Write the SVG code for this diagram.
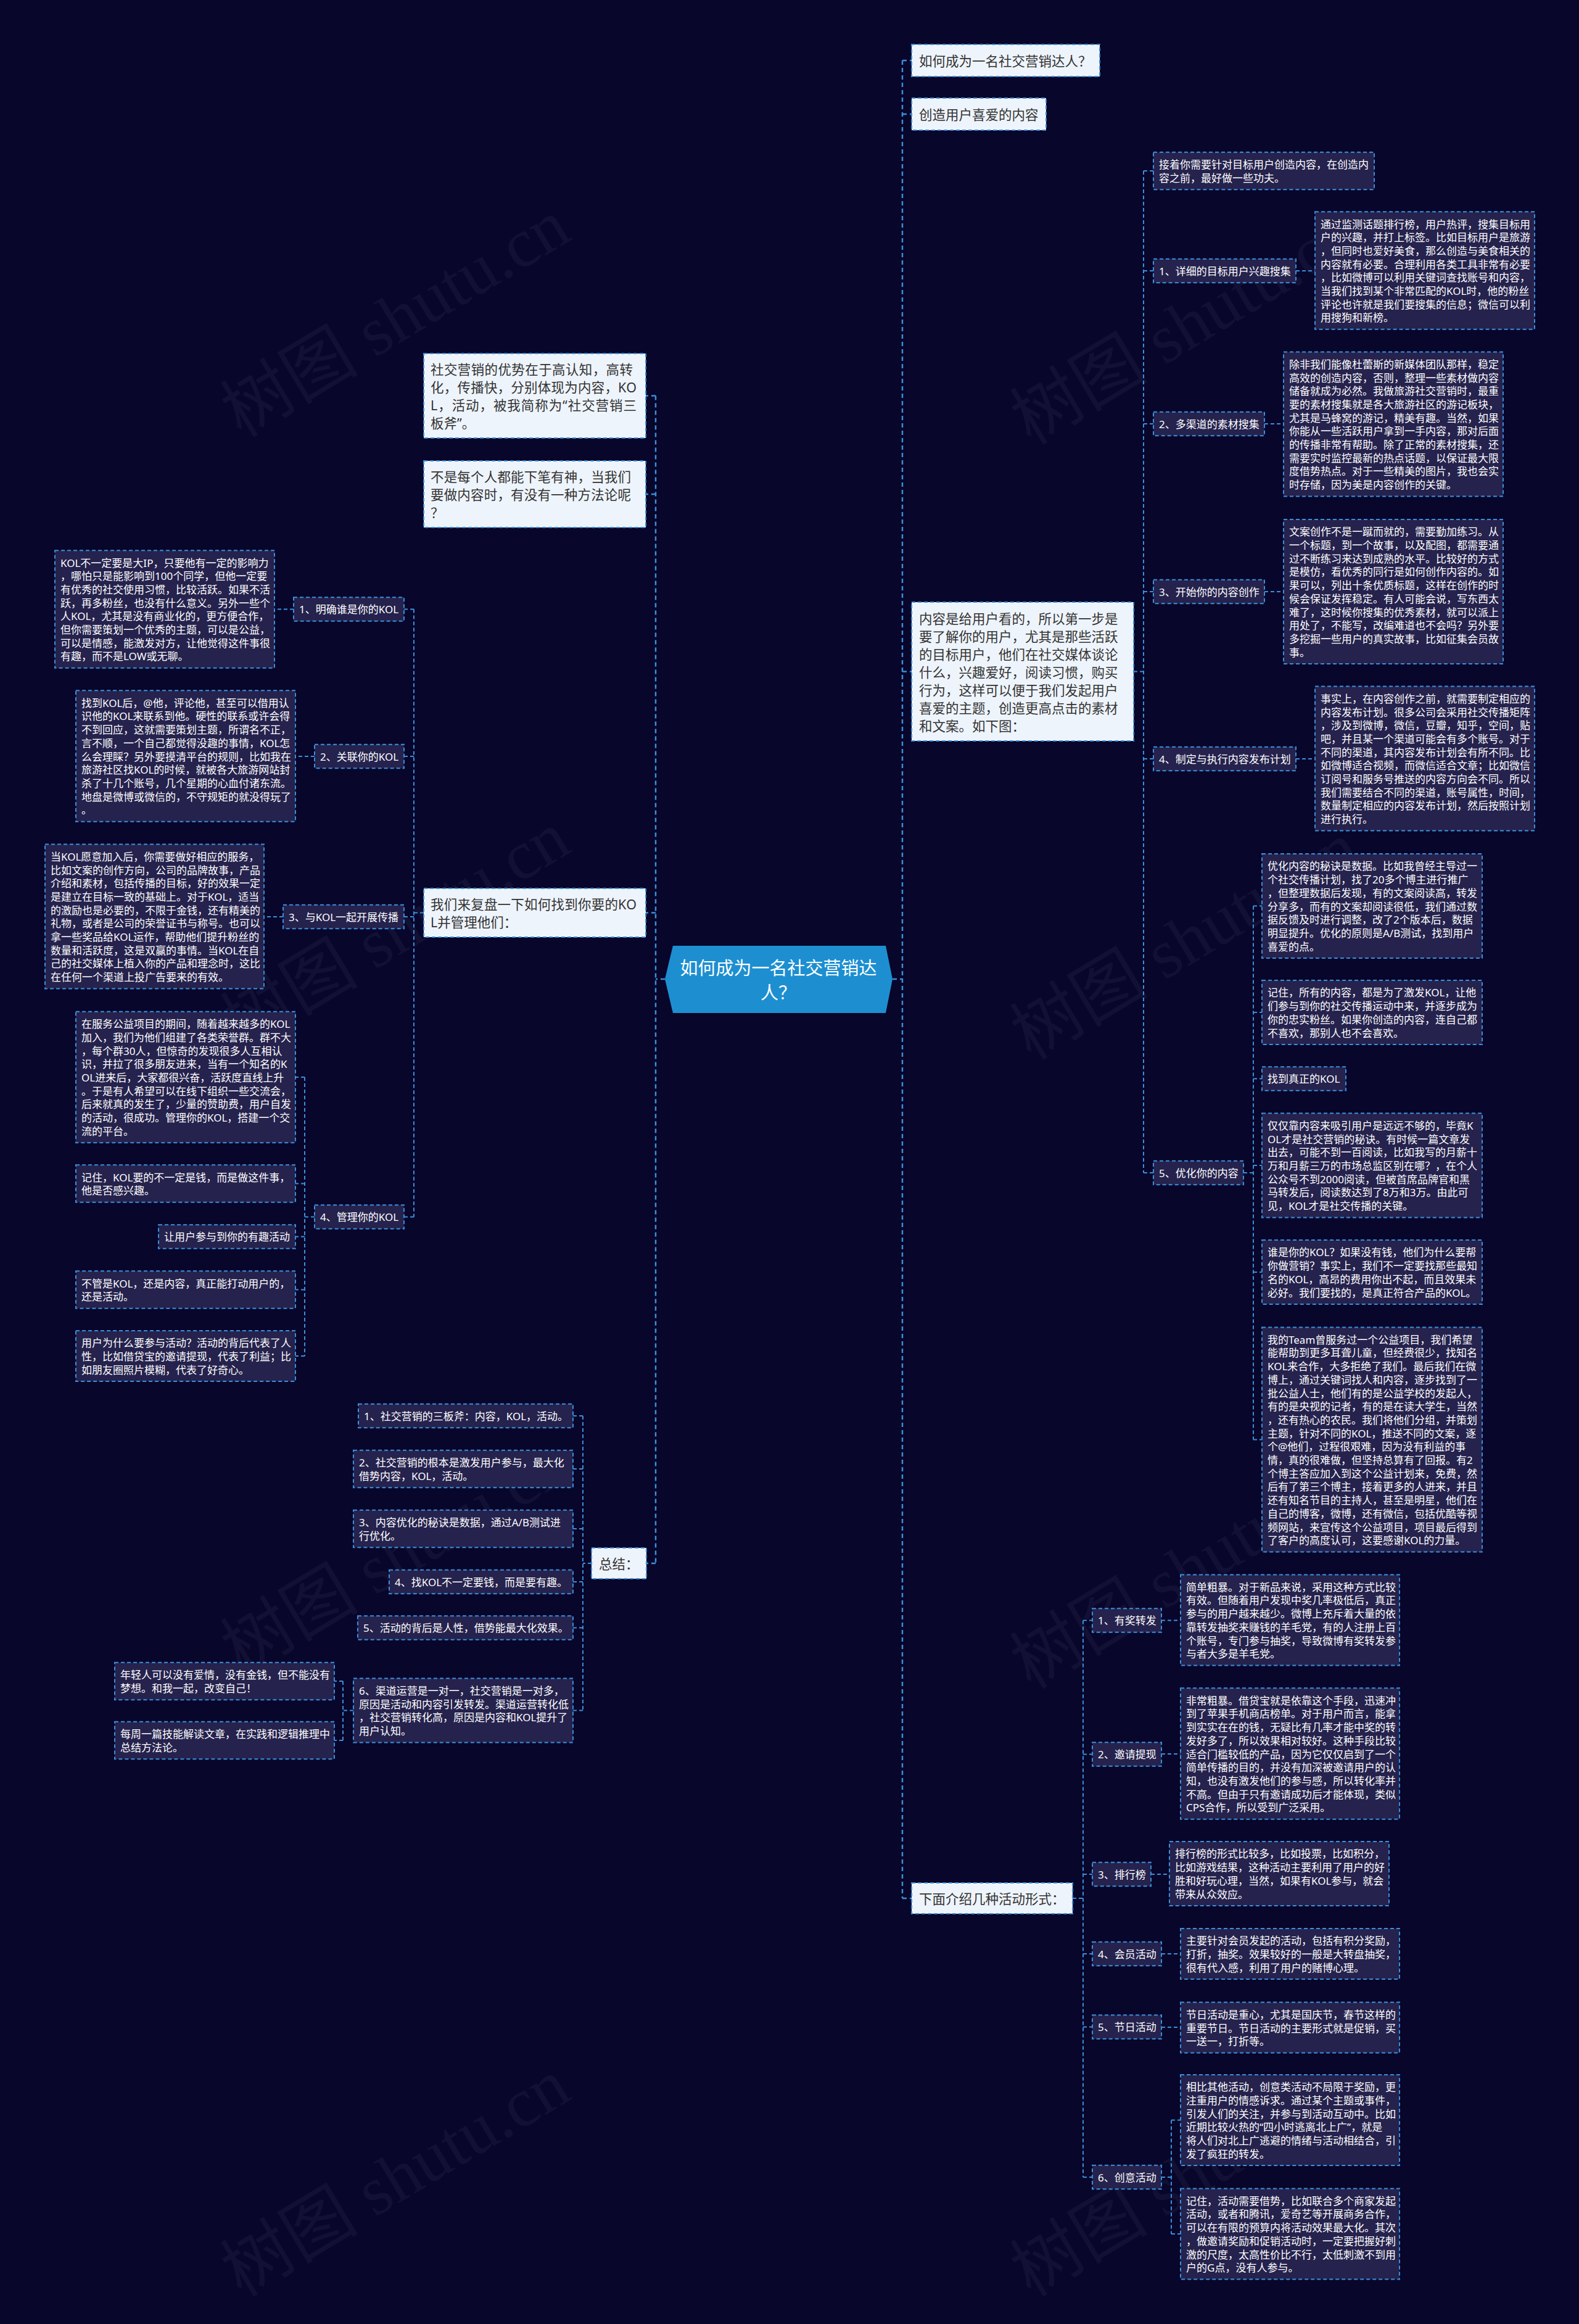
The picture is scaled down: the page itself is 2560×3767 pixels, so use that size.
<svg xmlns="http://www.w3.org/2000/svg" width="2560" height="3767" viewBox="0 0 2560 3767">
<defs>
<style>
.bg{fill:#08062b}
.wm{font-family:"Liberation Serif","Noto Sans CJK SC",serif;font-size:112px;fill:#ffffff;fill-opacity:0.045}
.leaf{fill:#25224d;stroke:#3a8fd9;stroke-width:2;stroke-dasharray:6 4}
.wb{fill:#eef4fb;stroke:#3a8fd9;stroke-width:2;stroke-dasharray:6 4}
.t{font-family:"Noto Sans","Noto Sans CJK SC",sans-serif;font-size:17px;fill:#ffffff;dominant-baseline:central}
.tw{font-family:"Noto Sans","Noto Sans CJK SC",sans-serif;font-size:21.5px;fill:#333333;dominant-baseline:central}
.tc{font-family:"Noto Sans","Noto Sans CJK SC",sans-serif;font-size:29px;fill:#ffffff;dominant-baseline:central;text-anchor:middle}
.cn{fill:none;stroke:#3a8fd9;stroke-width:2;stroke-dasharray:6 4}
.trunk{fill:none;stroke:#3a8fd9;stroke-width:2.5;stroke-dasharray:7 5}
</style>
</defs>
<rect class="bg" x="0" y="0" width="2560" height="3767"/>
<g id="watermarks">
<text class="wm" transform="translate(641,516) rotate(-31)" text-anchor="middle" dominant-baseline="central">树图 shutu.cn</text>
<text class="wm" transform="translate(1921,528) rotate(-31)" text-anchor="middle" dominant-baseline="central">树图 shutu.cn</text>
<text class="wm" transform="translate(641,1508) rotate(-31)" text-anchor="middle" dominant-baseline="central">树图 shutu.cn</text>
<text class="wm" transform="translate(1921,1525) rotate(-31)" text-anchor="middle" dominant-baseline="central">树图 shutu.cn</text>
<text class="wm" transform="translate(641,2522) rotate(-31)" text-anchor="middle" dominant-baseline="central">树图 shutu.cn</text>
<text class="wm" transform="translate(1921,2545) rotate(-31)" text-anchor="middle" dominant-baseline="central">树图 shutu.cn</text>
<text class="wm" transform="translate(641,3530) rotate(-31)" text-anchor="middle" dominant-baseline="central">树图 shutu.cn</text>
<text class="wm" transform="translate(1921,3530) rotate(-31)" text-anchor="middle" dominant-baseline="central">树图 shutu.cn</text>
</g>
<g id="connectors">
<path class="trunk" d="M1447 1587H1463M1463 98V3077M1463 98H1478M1463 185H1478M1463 1088.5H1478M1463 3077H1478"/>
<path class="trunk" d="M1078 1587H1063M1063 641.5V2534M1063 641.5H1047M1063 801H1047M1063 1479.5H1047M1063 2534H1048"/>
<path class="cn" d="M1838 1088.5H1854M1854 277V1901M1854 277H1870M1854 439H1870M1854 687H1870M1854 959H1870M1854 1230H1870M1854 1901H1870"/>
<path class="cn" d="M2101 439H2132M2050 687H2081M2050 959H2081M2101 1230H2132"/>
<path class="cn" d="M2016 1901H2032M2032 1468.5V2333.5M2032 1468.5H2046M2032 1641H2046M2032 1748.5H2046M2032 1889H2046M2032 2062H2046M2032 2333.5H2046"/>
<path class="cn" d="M1739 3077H1756M1756 2626.5V3529M1756 2626.5H1771M1756 2843.5H1771M1756 3038H1771M1756 3167H1771M1756 3285.5H1771M1756 3529H1771"/>
<path class="cn" d="M1883 2626.5H1914M1883 2843H1914M1866 3038H1896M1883 3167H1914M1883 3286H1914M1883 3529H1899M1899 3436.5V3621M1899 3436.5H1914M1899 3621H1914"/>
<path class="cn" d="M687 1479.5H671M671 987.5V1972.5M671 987.5H655M671 1226H655M671 1486H655M671 1972.5H655"/>
<path class="cn" d="M476 987.5H445M510 1226H479M459 1486H428M510 1972.5H494M494 1746V2198M494 1746H479M494 1918.5H479M494 2004.5H479M494 2090.5H479M494 2198H479"/>
<path class="cn" d="M959 2534H945M945 2295V2772.5M945 2295H929M945 2381H929M945 2478H929M945 2564H929M945 2638.5H929M945 2772.5H929"/>
<path class="cn" d="M573 2772.5H556M556 2725V2821M556 2725H542M556 2821H542"/>
</g>
<g id="center">
<polygon points="1078,1587 1091,1533 1436,1533 1447,1587 1436,1642 1091,1642" fill="#1d8fd1"/>
<text class="tc" x="1262" y="1568">如何成为一名社交营销达</text>
<text class="tc" x="1262" y="1608">人？</text>
</g>
<g id="n-title">
<rect class="wb" x="1478" y="72" width="305" height="52"/>
<text class="tw" x="1490" y="98">如何成为一名社交营销达人？</text>
</g>
<g id="n-create">
<rect class="wb" x="1478" y="159" width="218" height="52"/>
<text class="tw" x="1490" y="185">创造用户喜爱的内容</text>
</g>
<g id="n-content">
<rect class="wb" x="1478" y="976" width="360" height="225"/>
<text class="tw" x="1490" y="1001.5"><tspan x="1490" dy="0">内容是给用户看的，所以第一步是</tspan><tspan x="1490" dy="29">要了解你的用户，尤其是那些活跃</tspan><tspan x="1490" dy="29">的目标用户，他们在社交媒体谈论</tspan><tspan x="1490" dy="29">什么，兴趣爱好，阅读习惯，购买</tspan><tspan x="1490" dy="29">行为，这样可以便于我们发起用户</tspan><tspan x="1490" dy="29">喜爱的主题，创造更高点击的素材</tspan><tspan x="1490" dy="29">和文案。如下图：</tspan></text>
</g>
<g id="n-c0">
<rect class="leaf" x="1870" y="246.8" width="358" height="60.4"/>
<text class="t" x="1879" y="266.15"><tspan x="1879" dy="0">接着你需要针对目标用户创造内容，在创造内</tspan><tspan x="1879" dy="21.7">容之前，最好做一些功夫。</tspan></text>
</g>
<g id="n-c1">
<rect class="leaf" x="1870" y="419.65" width="231" height="38.7"/>
<text class="t" x="1879" y="439">1、详细的目标用户兴趣搜集</text>
</g>
<g id="n-c1t">
<rect class="leaf" x="2132" y="343.2" width="356" height="190.6"/>
<text class="t" x="2141" y="362.55"><tspan x="2141" dy="0">通过监测话题排行榜，用户热评，搜集目标用</tspan><tspan x="2141" dy="21.7">户的兴趣，并打上标签。比如目标用户是旅游</tspan><tspan x="2141" dy="21.7">，但同时也爱好美食，那么创造与美食相关的</tspan><tspan x="2141" dy="21.7">内容就有必要。合理利用各类工具非常有必要</tspan><tspan x="2141" dy="21.7">，比如微博可以利用关键词查找账号和内容，</tspan><tspan x="2141" dy="21.7">当我们找到某个非常匹配的KOL时，他的粉丝</tspan><tspan x="2141" dy="21.7">评论也许就是我们要搜集的信息；微信可以利</tspan><tspan x="2141" dy="21.7">用搜狗和新榜。</tspan></text>
</g>
<g id="n-c2">
<rect class="leaf" x="1870" y="667.65" width="180" height="38.7"/>
<text class="t" x="1879" y="687">2、多渠道的素材搜集</text>
</g>
<g id="n-c2t">
<rect class="leaf" x="2081" y="570.5" width="356" height="234"/>
<text class="t" x="2090" y="589.85"><tspan x="2090" dy="0">除非我们能像杜蕾斯的新媒体团队那样，稳定</tspan><tspan x="2090" dy="21.7">高效的创造内容，否则，整理一些素材做内容</tspan><tspan x="2090" dy="21.7">储备就成为必然。我做旅游社交营销时，最重</tspan><tspan x="2090" dy="21.7">要的素材搜集就是各大旅游社区的游记板块，</tspan><tspan x="2090" dy="21.7">尤其是马蜂窝的游记，精美有趣。当然，如果</tspan><tspan x="2090" dy="21.7">你能从一些活跃用户拿到一手内容，那对后面</tspan><tspan x="2090" dy="21.7">的传播非常有帮助。除了正常的素材搜集，还</tspan><tspan x="2090" dy="21.7">需要实时监控最新的热点话题，以保证最大限</tspan><tspan x="2090" dy="21.7">度借势热点。对于一些精美的图片，我也会实</tspan><tspan x="2090" dy="21.7">时存储，因为美是内容创作的关键。</tspan></text>
</g>
<g id="n-c3">
<rect class="leaf" x="1870" y="939.65" width="180" height="38.7"/>
<text class="t" x="1879" y="959">3、开始你的内容创作</text>
</g>
<g id="n-c3t">
<rect class="leaf" x="2081" y="842" width="356" height="234"/>
<text class="t" x="2090" y="861.35"><tspan x="2090" dy="0">文案创作不是一蹴而就的，需要勤加练习。从</tspan><tspan x="2090" dy="21.7">一个标题，到一个故事，以及配图，都需要通</tspan><tspan x="2090" dy="21.7">过不断练习来达到成熟的水平。比较好的方式</tspan><tspan x="2090" dy="21.7">是模仿，看优秀的同行是如何创作内容的。如</tspan><tspan x="2090" dy="21.7">果可以，列出十条优质标题，这样在创作的时</tspan><tspan x="2090" dy="21.7">候会保证发挥稳定。有人可能会说，写东西太</tspan><tspan x="2090" dy="21.7">难了，这时候你搜集的优秀素材，就可以派上</tspan><tspan x="2090" dy="21.7">用处了，不能写，改编难道也不会吗？另外要</tspan><tspan x="2090" dy="21.7">多挖掘一些用户的真实故事，比如征集会员故</tspan><tspan x="2090" dy="21.7">事。</tspan></text>
</g>
<g id="n-c4">
<rect class="leaf" x="1870" y="1210.65" width="231" height="38.7"/>
<text class="t" x="1879" y="1230">4、制定与执行内容发布计划</text>
</g>
<g id="n-c4t">
<rect class="leaf" x="2132" y="1112.5" width="356" height="234"/>
<text class="t" x="2141" y="1131.85"><tspan x="2141" dy="0">事实上，在内容创作之前，就需要制定相应的</tspan><tspan x="2141" dy="21.7">内容发布计划。很多公司会采用社交传播矩阵</tspan><tspan x="2141" dy="21.7">，涉及到微博，微信，豆瓣，知乎，空间，贴</tspan><tspan x="2141" dy="21.7">吧，并且某一个渠道可能会有多个账号。对于</tspan><tspan x="2141" dy="21.7">不同的渠道，其内容发布计划会有所不同。比</tspan><tspan x="2141" dy="21.7">如微博适合视频，而微信适合文章；比如微信</tspan><tspan x="2141" dy="21.7">订阅号和服务号推送的内容方向会不同。所以</tspan><tspan x="2141" dy="21.7">我们需要结合不同的渠道，账号属性，时间，</tspan><tspan x="2141" dy="21.7">数量制定相应的内容发布计划，然后按照计划</tspan><tspan x="2141" dy="21.7">进行执行。</tspan></text>
</g>
<g id="n-c5">
<rect class="leaf" x="1870" y="1881.65" width="146" height="38.7"/>
<text class="t" x="1879" y="1901">5、优化你的内容</text>
</g>
<g id="n-c5a">
<rect class="leaf" x="2046" y="1384.05" width="357" height="168.9"/>
<text class="t" x="2055" y="1403.4"><tspan x="2055" dy="0">优化内容的秘诀是数据。比如我曾经主导过一</tspan><tspan x="2055" dy="21.7">个社交传播计划，找了20多个博主进行推广</tspan><tspan x="2055" dy="21.7">，但整理数据后发现，有的文案阅读高，转发</tspan><tspan x="2055" dy="21.7">分享多，而有的文案却阅读很低，我们通过数</tspan><tspan x="2055" dy="21.7">据反馈及时进行调整，改了2个版本后，数据</tspan><tspan x="2055" dy="21.7">明显提升。优化的原则是A/B测试，找到用户</tspan><tspan x="2055" dy="21.7">喜爱的点。</tspan></text>
</g>
<g id="n-c5b">
<rect class="leaf" x="2046" y="1589.1" width="357" height="103.8"/>
<text class="t" x="2055" y="1608.45"><tspan x="2055" dy="0">记住，所有的内容，都是为了激发KOL，让他</tspan><tspan x="2055" dy="21.7">们参与到你的社交传播运动中来，并逐步成为</tspan><tspan x="2055" dy="21.7">你的忠实粉丝。如果你创造的内容，连自己都</tspan><tspan x="2055" dy="21.7">不喜欢，那别人也不会喜欢。</tspan></text>
</g>
<g id="n-c5c">
<rect class="leaf" x="2046" y="1729.15" width="136" height="38.7"/>
<text class="t" x="2055" y="1748.5">找到真正的KOL</text>
</g>
<g id="n-c5d">
<rect class="leaf" x="2046" y="1804.55" width="357" height="168.9"/>
<text class="t" x="2055" y="1823.9"><tspan x="2055" dy="0">仅仅靠内容来吸引用户是远远不够的，毕竟K</tspan><tspan x="2055" dy="21.7">OL才是社交营销的秘诀。有时候一篇文章发</tspan><tspan x="2055" dy="21.7">出去，可能不到一百阅读，比如我写的月薪十</tspan><tspan x="2055" dy="21.7">万和月薪三万的市场总监区别在哪？，在个人</tspan><tspan x="2055" dy="21.7">公众号不到2000阅读，但被首席品牌官和黑</tspan><tspan x="2055" dy="21.7">马转发后，阅读数达到了8万和3万。由此可</tspan><tspan x="2055" dy="21.7">见，KOL才是社交传播的关键。</tspan></text>
</g>
<g id="n-c5e">
<rect class="leaf" x="2046" y="2010.1" width="357" height="103.8"/>
<text class="t" x="2055" y="2029.45"><tspan x="2055" dy="0">谁是你的KOL？如果没有钱，他们为什么要帮</tspan><tspan x="2055" dy="21.7">你做营销？事实上，我们不一定要找那些最知</tspan><tspan x="2055" dy="21.7">名的KOL，高昂的费用你出不起，而且效果未</tspan><tspan x="2055" dy="21.7">必好。我们要找的，是真正符合产品的KOL。</tspan></text>
</g>
<g id="n-c5f">
<rect class="leaf" x="2046" y="2151.4" width="357" height="364.2"/>
<text class="t" x="2055" y="2170.75"><tspan x="2055" dy="0">我的Team曾服务过一个公益项目，我们希望</tspan><tspan x="2055" dy="21.7">能帮助到更多耳聋儿童，但经费很少，找知名</tspan><tspan x="2055" dy="21.7">KOL来合作，大多拒绝了我们。最后我们在微</tspan><tspan x="2055" dy="21.7">博上，通过关键词找人和内容，逐步找到了一</tspan><tspan x="2055" dy="21.7">批公益人士，他们有的是公益学校的发起人，</tspan><tspan x="2055" dy="21.7">有的是央视的记者，有的是在读大学生，当然</tspan><tspan x="2055" dy="21.7">，还有热心的农民。我们将他们分组，并策划</tspan><tspan x="2055" dy="21.7">主题，针对不同的KOL，推送不同的文案，逐</tspan><tspan x="2055" dy="21.7">个@他们，过程很艰难，因为没有利益的事</tspan><tspan x="2055" dy="21.7">情，真的很难做，但坚持总算有了回报。有2</tspan><tspan x="2055" dy="21.7">个博主答应加入到这个公益计划来，免费，然</tspan><tspan x="2055" dy="21.7">后有了第三个博主，接着更多的人进来，并且</tspan><tspan x="2055" dy="21.7">还有知名节目的主持人，甚至是明星，他们在</tspan><tspan x="2055" dy="21.7">自己的博客，微博，还有微信，包括优酷等视</tspan><tspan x="2055" dy="21.7">频网站，来宣传这个公益项目，项目最后得到</tspan><tspan x="2055" dy="21.7">了客户的高度认可，这要感谢KOL的力量。</tspan></text>
</g>
<g id="n-act">
<rect class="wb" x="1478" y="3052" width="261" height="50"/>
<text class="tw" x="1490" y="3077">下面介绍几种活动形式：</text>
</g>
<g id="n-a1">
<rect class="leaf" x="1771" y="2607.15" width="112" height="38.7"/>
<text class="t" x="1780" y="2626.5">1、有奖转发</text>
</g>
<g id="n-a1t">
<rect class="leaf" x="1914" y="2552.4" width="355" height="147.2"/>
<text class="t" x="1923" y="2571.75"><tspan x="1923" dy="0">简单粗暴。对于新品来说，采用这种方式比较</tspan><tspan x="1923" dy="21.7">有效。但随着用户发现中奖几率极低后，真正</tspan><tspan x="1923" dy="21.7">参与的用户越来越少。微博上充斥着大量的依</tspan><tspan x="1923" dy="21.7">靠转发抽奖来赚钱的羊毛党，有的人注册上百</tspan><tspan x="1923" dy="21.7">个账号，专门参与抽奖，导致微博有奖转发参</tspan><tspan x="1923" dy="21.7">与者大多是羊毛党。</tspan></text>
</g>
<g id="n-a2">
<rect class="leaf" x="1771" y="2824.15" width="112" height="38.7"/>
<text class="t" x="1780" y="2843.5">2、邀请提现</text>
</g>
<g id="n-a2t">
<rect class="leaf" x="1914" y="2736.35" width="355" height="212.3"/>
<text class="t" x="1923" y="2755.7"><tspan x="1923" dy="0">非常粗暴。借贷宝就是依靠这个手段，迅速冲</tspan><tspan x="1923" dy="21.7">到了苹果手机商店榜单。对于用户而言，能拿</tspan><tspan x="1923" dy="21.7">到实实在在的钱，无疑比有几率才能中奖的转</tspan><tspan x="1923" dy="21.7">发好多了，所以效果相对较好。这种手段比较</tspan><tspan x="1923" dy="21.7">适合门槛较低的产品，因为它仅仅启到了一个</tspan><tspan x="1923" dy="21.7">简单传播的目的，并没有加深被邀请用户的认</tspan><tspan x="1923" dy="21.7">知，也没有激发他们的参与感，所以转化率并</tspan><tspan x="1923" dy="21.7">不高。但由于只有邀请成功后才能体现，类似</tspan><tspan x="1923" dy="21.7">CPS合作，所以受到广泛采用。</tspan></text>
</g>
<g id="n-a3">
<rect class="leaf" x="1771" y="3018.65" width="95" height="38.7"/>
<text class="t" x="1780" y="3038">3、排行榜</text>
</g>
<g id="n-a3t">
<rect class="leaf" x="1896" y="2985.1" width="356" height="103.8"/>
<text class="t" x="1905" y="3004.45"><tspan x="1905" dy="0">排行榜的形式比较多，比如投票，比如积分，</tspan><tspan x="1905" dy="21.7">比如游戏结果，这种活动主要利用了用户的好</tspan><tspan x="1905" dy="21.7">胜和好玩心理，当然，如果有KOL参与，就会</tspan><tspan x="1905" dy="21.7">带来从众效应。</tspan></text>
</g>
<g id="n-a4">
<rect class="leaf" x="1771" y="3147.65" width="112" height="38.7"/>
<text class="t" x="1780" y="3167">4、会员活动</text>
</g>
<g id="n-a4t">
<rect class="leaf" x="1914" y="3125.95" width="355" height="82.1"/>
<text class="t" x="1923" y="3145.3"><tspan x="1923" dy="0">主要针对会员发起的活动，包括有积分奖励，</tspan><tspan x="1923" dy="21.7">打折，抽奖。效果较好的一般是大转盘抽奖，</tspan><tspan x="1923" dy="21.7">很有代入感，利用了用户的赌博心理。</tspan></text>
</g>
<g id="n-a5">
<rect class="leaf" x="1771" y="3266.15" width="112" height="38.7"/>
<text class="t" x="1780" y="3285.5">5、节日活动</text>
</g>
<g id="n-a5t">
<rect class="leaf" x="1914" y="3245.45" width="355" height="82.1"/>
<text class="t" x="1923" y="3264.8"><tspan x="1923" dy="0">节日活动是重心，尤其是国庆节，春节这样的</tspan><tspan x="1923" dy="21.7">重要节日。节日活动的主要形式就是促销，买</tspan><tspan x="1923" dy="21.7">一送一，打折等。</tspan></text>
</g>
<g id="n-a6">
<rect class="leaf" x="1771" y="3509.65" width="112" height="38.7"/>
<text class="t" x="1780" y="3529">6、创意活动</text>
</g>
<g id="n-a6a">
<rect class="leaf" x="1914" y="3362.9" width="355" height="147.2"/>
<text class="t" x="1923" y="3382.25"><tspan x="1923" dy="0">相比其他活动，创意类活动不局限于奖励，更</tspan><tspan x="1923" dy="21.7">注重用户的情感诉求。通过某个主题或事件，</tspan><tspan x="1923" dy="21.7">引发人们的关注，并参与到活动互动中。比如</tspan><tspan x="1923" dy="21.7">近期比较火热的“四小时逃离北上广”，就是</tspan><tspan x="1923" dy="21.7">将人们对北上广逃避的情绪与活动相结合，引</tspan><tspan x="1923" dy="21.7">发了疯狂的转发。</tspan></text>
</g>
<g id="n-a6b">
<rect class="leaf" x="1914" y="3547.4" width="355" height="147.2"/>
<text class="t" x="1923" y="3566.75"><tspan x="1923" dy="0">记住，活动需要借势，比如联合多个商家发起</tspan><tspan x="1923" dy="21.7">活动，或者和腾讯，爱奇艺等开展商务合作，</tspan><tspan x="1923" dy="21.7">可以在有限的预算内将活动效果最大化。其次</tspan><tspan x="1923" dy="21.7">，做邀请奖励和促销活动时，一定要把握好刺</tspan><tspan x="1923" dy="21.7">激的尺度，太高性价比不行，太低刺激不到用</tspan><tspan x="1923" dy="21.7">户的G点，没有人参与。</tspan></text>
</g>
<g id="n-l1">
<rect class="wb" x="687" y="573" width="360" height="137"/>
<text class="tw" x="698" y="598.45"><tspan x="698" dy="0" textLength="328" lengthAdjust="spacing">社交营销的优势在于高认知，高转</tspan><tspan x="698" dy="28.7" textLength="334" lengthAdjust="spacing">化，传播快，分别体现为内容，KO</tspan><tspan x="698" dy="28.7" textLength="334" lengthAdjust="spacing">L，活动，被我简称为“社交营销三</tspan><tspan x="698" dy="28.7">板斧”。</tspan></text>
</g>
<g id="n-l2">
<rect class="wb" x="687" y="747" width="360" height="108"/>
<text class="tw" x="698" y="772.3"><tspan x="698" dy="0" textLength="325" lengthAdjust="spacing">不是每个人都能下笔有神，当我们</tspan><tspan x="698" dy="28.7" textLength="325" lengthAdjust="spacing">要做内容时，有没有一种方法论呢</tspan><tspan x="698" dy="28.7">？</tspan></text>
</g>
<g id="n-l3">
<rect class="wb" x="687" y="1440" width="360" height="79"/>
<text class="tw" x="698" y="1465.15"><tspan x="698" dy="0" textLength="334" lengthAdjust="spacing">我们来复盘一下如何找到你要的KO</tspan><tspan x="698" dy="28.7">L并管理他们：</tspan></text>
</g>
<g id="n-k1">
<rect class="leaf" x="476" y="968.15" width="179" height="38.7"/>
<text class="t" x="485" y="987.5">1、明确谁是你的KOL</text>
</g>
<g id="n-k1t">
<rect class="leaf" x="89" y="892.2" width="356" height="190.6"/>
<text class="t" x="98" y="911.55"><tspan x="98" dy="0">KOL不一定要是大IP，只要他有一定的影响力</tspan><tspan x="98" dy="21.7">，哪怕只是能影响到100个同学，但他一定要</tspan><tspan x="98" dy="21.7">有优秀的社交使用习惯，比较活跃。如果不活</tspan><tspan x="98" dy="21.7">跃，再多粉丝，也没有什么意义。另外一些个</tspan><tspan x="98" dy="21.7">人KOL，尤其是没有商业化的，更方便合作，</tspan><tspan x="98" dy="21.7">但你需要策划一个优秀的主题，可以是公益，</tspan><tspan x="98" dy="21.7">可以是情感，能激发对方，让他觉得这件事很</tspan><tspan x="98" dy="21.7">有趣，而不是LOW或无聊。</tspan></text>
</g>
<g id="n-k2">
<rect class="leaf" x="510" y="1206.65" width="145" height="38.7"/>
<text class="t" x="519" y="1226">2、关联你的KOL</text>
</g>
<g id="n-k2t">
<rect class="leaf" x="123" y="1119.35" width="356" height="212.3"/>
<text class="t" x="132" y="1138.7"><tspan x="132" dy="0">找到KOL后，@他，评论他，甚至可以借用认</tspan><tspan x="132" dy="21.7">识他的KOL来联系到他。硬性的联系或许会得</tspan><tspan x="132" dy="21.7">不到回应，这就需要策划主题，所谓名不正，</tspan><tspan x="132" dy="21.7">言不顺，一个自己都觉得没趣的事情，KOL怎</tspan><tspan x="132" dy="21.7">么会理睬？另外要摸清平台的规则，比如我在</tspan><tspan x="132" dy="21.7">旅游社区找KOL的时候，就被各大旅游网站封</tspan><tspan x="132" dy="21.7">杀了十几个账号，几个星期的心血付诸东流。</tspan><tspan x="132" dy="21.7">地盘是微博或微信的，不守规矩的就没得玩了</tspan><tspan x="132" dy="21.7">。</tspan></text>
</g>
<g id="n-k3">
<rect class="leaf" x="459" y="1466.65" width="196" height="38.7"/>
<text class="t" x="468" y="1486">3、与KOL一起开展传播</text>
</g>
<g id="n-k3t">
<rect class="leaf" x="73" y="1368.5" width="355" height="234"/>
<text class="t" x="82" y="1387.85"><tspan x="82" dy="0">当KOL愿意加入后，你需要做好相应的服务，</tspan><tspan x="82" dy="21.7">比如文案的创作方向，公司的品牌故事，产品</tspan><tspan x="82" dy="21.7">介绍和素材，包括传播的目标，好的效果一定</tspan><tspan x="82" dy="21.7">是建立在目标一致的基础上。对于KOL，适当</tspan><tspan x="82" dy="21.7">的激励也是必要的，不限于金钱，还有精美的</tspan><tspan x="82" dy="21.7">礼物，或者是公司的荣誉证书与称号。也可以</tspan><tspan x="82" dy="21.7">拿一些奖品给KOL运作，帮助他们提升粉丝的</tspan><tspan x="82" dy="21.7">数量和活跃度，这是双赢的事情。当KOL在自</tspan><tspan x="82" dy="21.7">己的社交媒体上植入你的产品和理念时，这比</tspan><tspan x="82" dy="21.7">在任何一个渠道上投广告要来的有效。</tspan></text>
</g>
<g id="n-k4">
<rect class="leaf" x="510" y="1953.15" width="145" height="38.7"/>
<text class="t" x="519" y="1972.5">4、管理你的KOL</text>
</g>
<g id="n-k4a">
<rect class="leaf" x="123" y="1639.85" width="356" height="212.3"/>
<text class="t" x="132" y="1659.2"><tspan x="132" dy="0">在服务公益项目的期间，随着越来越多的KOL</tspan><tspan x="132" dy="21.7">加入，我们为他们组建了各类荣誉群。群不大</tspan><tspan x="132" dy="21.7">，每个群30人，但惊奇的发现很多人互相认</tspan><tspan x="132" dy="21.7">识，并拉了很多朋友进来，当有一个知名的K</tspan><tspan x="132" dy="21.7">OL进来后，大家都很兴奋，活跃度直线上升</tspan><tspan x="132" dy="21.7">。于是有人希望可以在线下组织一些交流会，</tspan><tspan x="132" dy="21.7">后来就真的发生了，少量的赞助费，用户自发</tspan><tspan x="132" dy="21.7">的活动，很成功。管理你的KOL，搭建一个交</tspan><tspan x="132" dy="21.7">流的平台。</tspan></text>
</g>
<g id="n-k4b">
<rect class="leaf" x="123" y="1888.3" width="356" height="60.4"/>
<text class="t" x="132" y="1907.65"><tspan x="132" dy="0">记住，KOL要的不一定是钱，而是做这件事，</tspan><tspan x="132" dy="21.7">他是否感兴趣。</tspan></text>
</g>
<g id="n-k4c">
<rect class="leaf" x="257" y="1985.15" width="222" height="38.7"/>
<text class="t" x="266" y="2004.5">让用户参与到你的有趣活动</text>
</g>
<g id="n-k4d">
<rect class="leaf" x="123" y="2060.3" width="356" height="60.4"/>
<text class="t" x="132" y="2079.65"><tspan x="132" dy="0">不管是KOL，还是内容，真正能打动用户的，</tspan><tspan x="132" dy="21.7">还是活动。</tspan></text>
</g>
<g id="n-k4e">
<rect class="leaf" x="123" y="2156.95" width="356" height="82.1"/>
<text class="t" x="132" y="2176.3"><tspan x="132" dy="0">用户为什么要参与活动？活动的背后代表了人</tspan><tspan x="132" dy="21.7">性，比如借贷宝的邀请提现，代表了利益；比</tspan><tspan x="132" dy="21.7">如朋友圈照片模糊，代表了好奇心。</tspan></text>
</g>
<g id="n-sum">
<rect class="wb" x="959" y="2509" width="89" height="50"/>
<text class="tw" x="971" y="2534">总结：</text>
</g>
<g id="n-s1">
<rect class="leaf" x="581" y="2275.65" width="348" height="38.7"/>
<text class="t" x="590" y="2295">1、社交营销的三板斧：内容，KOL，活动。</text>
</g>
<g id="n-s2">
<rect class="leaf" x="573" y="2350.8" width="356" height="60.4"/>
<text class="t" x="582" y="2370.15"><tspan x="582" dy="0">2、社交营销的根本是激发用户参与，最大化</tspan><tspan x="582" dy="21.7">借势内容，KOL，活动。</tspan></text>
</g>
<g id="n-s3">
<rect class="leaf" x="573" y="2447.8" width="356" height="60.4"/>
<text class="t" x="582" y="2467.15"><tspan x="582" dy="0">3、内容优化的秘诀是数据，通过A/B测试进</tspan><tspan x="582" dy="21.7">行优化。</tspan></text>
</g>
<g id="n-s4">
<rect class="leaf" x="631" y="2544.65" width="298" height="38.7"/>
<text class="t" x="640" y="2564">4、找KOL不一定要钱，而是要有趣。</text>
</g>
<g id="n-s5">
<rect class="leaf" x="580" y="2619.15" width="349" height="38.7"/>
<text class="t" x="589" y="2638.5">5、活动的背后是人性，借势能最大化效果。</text>
</g>
<g id="n-s6">
<rect class="leaf" x="573" y="2720.6" width="356" height="103.8"/>
<text class="t" x="582" y="2739.95"><tspan x="582" dy="0">6、渠道运营是一对一，社交营销是一对多，</tspan><tspan x="582" dy="21.7">原因是活动和内容引发转发。渠道运营转化低</tspan><tspan x="582" dy="21.7">，社交营销转化高，原因是内容和KOL提升了</tspan><tspan x="582" dy="21.7">用户认知。</tspan></text>
</g>
<g id="n-s6a">
<rect class="leaf" x="186" y="2694.8" width="356" height="60.4"/>
<text class="t" x="195" y="2714.15"><tspan x="195" dy="0">年轻人可以没有爱情，没有金钱，但不能没有</tspan><tspan x="195" dy="21.7">梦想。和我一起，改变自己！</tspan></text>
</g>
<g id="n-s6b">
<rect class="leaf" x="186" y="2790.8" width="356" height="60.4"/>
<text class="t" x="195" y="2810.15"><tspan x="195" dy="0">每周一篇技能解读文章，在实践和逻辑推理中</tspan><tspan x="195" dy="21.7">总结方法论。</tspan></text>
</g>
</svg>
